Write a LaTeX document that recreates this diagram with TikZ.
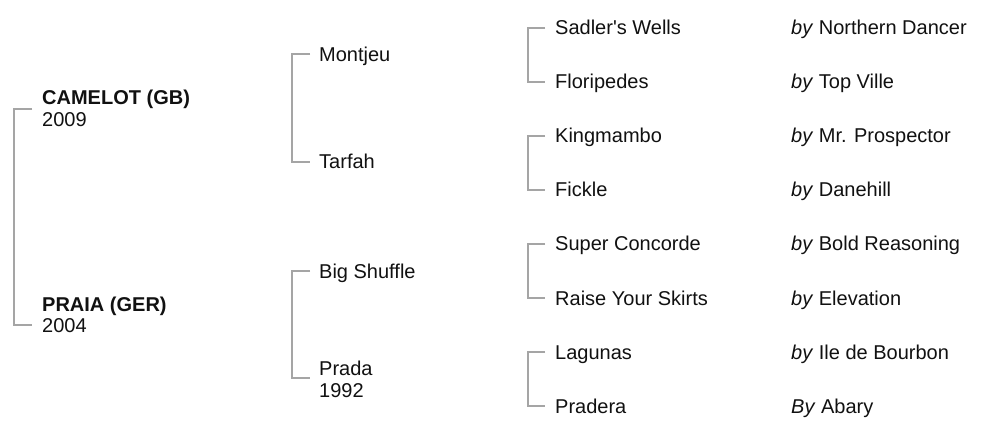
\documentclass[tikz,border=0pt]{standalone}
\usepackage{fontspec}
\setmainfont{Liberation Sans}
\definecolor{lineg}{RGB}{165,165,165}
\definecolor{txt}{RGB}{17,17,17}
\begin{document}
\begin{tikzpicture}[x=1pt,y=-1pt,
  lbl/.style={anchor=base west,inner sep=0pt,font=\fontsize{20}{22}\selectfont,text=txt},
  bold/.style={lbl,font=\fontsize{20}{22}\selectfont\bfseries},
  br/.style={draw=lineg,line width=1.1pt}]
\useasboundingbox[fill=white] (0,0) rectangle (1003,438);
% generation 1
\node[bold] (camelot) at (42,105) {CAMELOT (GB)};
\node[lbl] (camelotyr) at (42,127) {2009};
\node[bold] (praia) at (42,311) {PRAIA (GER)};
\node[lbl] (praiayr) at (42,332) {2004};
\coordinate (g1a) at (32,109);
\coordinate (g1b) at (32,325);
\draw[br] (g1a) -- ++(-18,0) |- (g1b);
% generation 2
\node[lbl] (montjeu) at (319,62) {Montjeu};
\node[lbl] (tarfah) at (319,169) {Tarfah};
\node[lbl] (bigshuffle) at (319,278) {Big Shuffle};
\node[lbl] (prada) at (319,375) {Prada};
\node[lbl] (pradayr) at (319,397) {1992};
\coordinate (g2a) at (310,54);
\coordinate (g2b) at (310,162);
\coordinate (g2c) at (310,271);
\coordinate (g2d) at (310,378);
\draw[br] (g2a) -- ++(-18,0) |- (g2b);
\draw[br] (g2c) -- ++(-18,0) |- (g2d);
% generation 3
\foreach \n/\t [count=\i from 0] in {s1/{Sadler\textquotesingle s Wells},s2/{Floripedes},s3/{Kingmambo},s4/{Fickle},s5/{Super Concorde},s6/{Raise Your Skirts},s7/{Lagunas},s8/{Pradera}}{
  \node[lbl] (\n) at (555,{35+54*\i}) {\t};
  \coordinate (c\n) at (545,{28+54*\i});
}
\foreach \a/\b in {s1/s2,s3/s4,s5/s6,s7/s8}{
  \draw[br] (c\a) -- ++(-17,0) |- (c\b);
}
% generation 4
\foreach \n/\t [count=\i from 0] in {d1/{\textit{by} Northern Dancer},d2/{\textit{by} Top Ville},d3/{\textit{by} Mr. Prospector},d4/{\textit{by} Danehill},d5/{\textit{by} Bold Reasoning},d6/{\textit{by} Elevation},d7/{\textit{by} Ile de Bourbon},d8/{\textit{By} Abary}}{
  \node[lbl] (\n) at (791,{35+54*\i}) {\t};
}
\end{tikzpicture}
\end{document}
